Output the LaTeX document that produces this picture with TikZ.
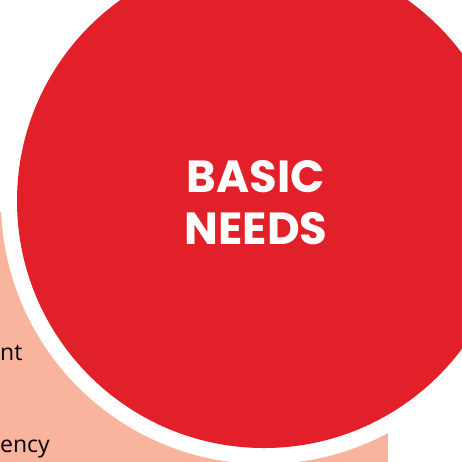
\documentclass[tikz,border=0pt]{standalone}
\usepackage{fontspec}
\setmainfont{Open Sans}
\newfontfamily\headfont{Poppins}
\usetikzlibrary{positioning}
\definecolor{needsred}{RGB}{225,32,41}
\definecolor{needssalmon}{RGB}{248,180,156}

\begin{document}
\begin{tikzpicture}[x=1pt,y=-1pt]
\tikzstyle{listtext}=[font=\fontsize{23}{27}\selectfont, text=black, inner sep=0pt, anchor=base west]
\tikzstyle{titletext}=[font=\headfont\bfseries\fontsize{45}{52}\selectfont, text=white, align=center, inner sep=0pt]

\useasboundingbox (0,0) rectangle (462,461);
\clip (0,0) rectangle (462,461);

% back panel and circle with its white ring
\fill[needssalmon] (-10,212) rectangle (388,470);
\fill[white] (264,201) circle (263);
\fill[needsred] (264,201) circle (247);

\node[titletext] (needs) at (256,203) {BASIC\\NEEDS};

\node[listtext] (nt) at (0,360) {nt};
\node[listtext] (ency) at (0,452) {ency};
\end{tikzpicture}
\end{document}
